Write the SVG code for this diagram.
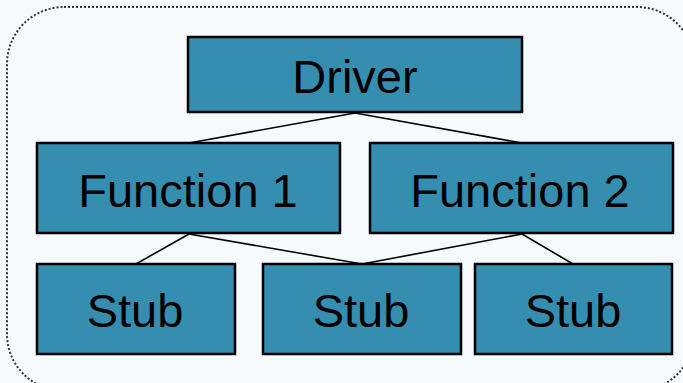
<svg xmlns="http://www.w3.org/2000/svg" width="683" height="383" viewBox="0 0 683 383">
<style>
.box{fill:#358eaf;stroke:#000;stroke-width:2.5}
.lbl{font-family:"Liberation Sans",Arial,sans-serif;font-size:47px;fill:#000;text-anchor:middle}
.con{stroke:#000;stroke-width:1.6;fill:none}
</style>
<rect x="0" y="0" width="683" height="383" fill="#f6fafc"/>
<rect x="7" y="7" width="687" height="384" rx="57" ry="57" fill="#f6fafc" stroke="#333" stroke-width="2" stroke-dasharray="2,2"/>
<g id="connectors">
<line class="con" x1="355" y1="113" x2="189" y2="143"/>
<line class="con" x1="355" y1="113" x2="522" y2="143"/>
<line class="con" x1="189" y1="234" x2="136" y2="264"/>
<line class="con" x1="189" y1="234" x2="362" y2="264"/>
<line class="con" x1="522" y1="234" x2="362" y2="264"/>
<line class="con" x1="522" y1="234" x2="573" y2="264"/>
</g>
<g id="driver">
<rect class="box" x="188" y="37" width="334" height="75"/>
<text class="lbl" x="355" y="93">Driver</text>
</g>
<g id="function1">
<rect class="box" x="37" y="143" width="303" height="90"/>
<text class="lbl" x="188" y="207">Function 1</text>
</g>
<g id="function2">
<rect class="box" x="370" y="143" width="303" height="90"/>
<text class="lbl" x="520" y="207">Function 2</text>
</g>
<g id="stub1">
<rect class="box" x="37" y="264" width="198" height="90"/>
<text class="lbl" x="135" y="327">Stub</text>
</g>
<g id="stub2">
<rect class="box" x="263" y="264" width="198" height="90"/>
<text class="lbl" x="361" y="327">Stub</text>
</g>
<g id="stub3">
<rect class="box" x="475" y="264" width="197" height="90"/>
<text class="lbl" x="573" y="327">Stub</text>
</g>
</svg>
